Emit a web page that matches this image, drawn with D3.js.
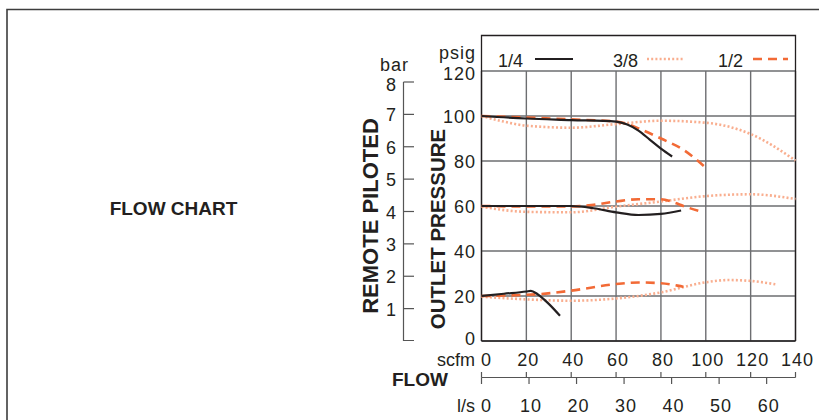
<!DOCTYPE html>
<html><head><meta charset="utf-8">
<script src="https://cdn.jsdelivr.net/npm/d3@7"></script>
<style>
html,body{margin:0;padding:0;background:#fff;}
svg{display:block;font-family:"Liberation Sans",Arial,Helvetica,sans-serif;}
</style></head>
<body><svg id="c" width="819" height="420"></svg>
<script>
// ---- data ----
const scfmTicks = [0, 20, 40, 60, 80, 100, 120, 140];
const lpsTicks = [0, 10, 20, 30, 40, 50, 60];
const psigTicks = [0, 20, 40, 60, 80, 100, 120];
const barTicks = [1, 2, 3, 4, 5, 6, 7, 8];
const seriesNames = ["1/4", "3/8", "1/2"];
// [scfm, psig]
const quarterTop = [[0,100],[20,98.9],[40,98.2],[60,97.5],[65,96.2],[70,93.5],[75,89.5],[80,85.5],[85,82]];
const quarterMid = [[0,60],[20,60],[40,60],[50,59],[60,57.2],[70,56],[80,56.5],[89,58]];
const quarterLow = [[0,20],[10,21],[20,22],[22,22.3],[25,20.8],[30,16.5],[35,11.2]];
const threeEighthTop = [[0,100],[10,97.5],[20,95.7],[40,94.8],[60,96.4],[80,97.9],[100,97],[120,92],[140,80.2]];
const threeEighthMid = [[0,59.7],[20,57.4],[40,57.2],[60,59.7],[80,62],[100,64.4],[120,65.2],[140,63.1]];
const threeEighthLow = [[0,19.7],[20,18.5],[40,17.9],[60,18.9],[80,21.6],[100,26.1],[110,27.1],[120,26.7],[131,25.2]];
const halfTop = [[0,100],[20,99.3],[40,98.5],[60,97.5],[65,96.5],[70,94.5],[80,90],[90,85],[100,77]];
const halfMid = [[0,60],[20,59.8],[40,59.8],[50,60.5],[60,62],[70,63],[80,63],[86,61.5],[90,60],[98,57.5]];
const halfLow = [[0,20],[25,20.8],[40,22.4],[60,25.3],[70,26],[80,25.7],[88,24.5],[90,24.1]];

// ---- setup ----
const svg = d3.select("#c");
const FONT = 18, LS = 1;
const x = d3.scaleLinear().domain([0, 140]).range([481.5, 795.5]);
const xL = d3.scaleLinear().domain([0, 140 * 0.471947]).range([481.5, 795.5]);
const y = d3.scaleLinear().domain([0, 120]).range([341, 71]);
const yBar = d3.scaleLinear().domain([0, 8]).range([341, 82]);
const GRID = "#6d6e71";
const BLACK = "#231f20", ORANGE = "#f26a36", PEACH = "#f9ae8f";

function txt(sel, ls) {
  return sel.attr("font-size", FONT).attr("letter-spacing", ls === undefined ? LS : ls).attr("fill", BLACK);
}

// outer border
svg.append("path").attr("d", "M7,420 L7,9.5 L819,9.5")
  .attr("fill", "none").attr("stroke", "#3d3d3d").attr("stroke-width", 1.6);

// title
svg.append("text").attr("x", 173.5).attr("y", 215).attr("text-anchor", "middle")
  .attr("font-weight", "bold").attr("font-size", 19).attr("fill", BLACK).text("FLOW CHART");

// grid
const g = svg.append("g");
g.selectAll("line.h").data(psigTicks).join("line")
  .attr("x1", x(0)).attr("x2", x(140)).attr("y1", d => y(d)).attr("y2", d => y(d))
  .attr("stroke", GRID).attr("stroke-width", 1.4);
g.selectAll("line.v").data(scfmTicks).join("line")
  .attr("x1", d => x(d)).attr("x2", d => x(d)).attr("y1", y(120)).attr("y2", y(0))
  .attr("stroke", GRID).attr("stroke-width", 1.4);
// frame
svg.append("path").attr("d", `M${x(0)},${y(0)} L${x(0)},35.5 L${x(140)},35.5 L${x(140)},${y(0)}`)
  .attr("fill", "none").attr("stroke", BLACK).attr("stroke-width", 1.3);
svg.append("line").attr("x1", x(0)).attr("x2", x(140)).attr("y1", y(0)).attr("y2", y(0))
  .attr("stroke", BLACK).attr("stroke-width", 1.3);

// psig labels
txt(svg.selectAll("text.psi").data(psigTicks).join("text")
  .attr("x", 476).attr("y", d => y(d) + (d === 120 ? 9 : d === 0 ? 4 : 6.5)).attr("text-anchor", "end")).text(d => d);
txt(svg.append("text").attr("x", 476).attr("y", 59).attr("text-anchor", "end")).text("psig");

// bar axis
const barX = 403.5;
svg.append("path").attr("d", `M${barX},${yBar(8)} L${barX},340.5 L414,340.5`)
  .attr("fill", "none").attr("stroke", "#555").attr("stroke-width", 1.2);
svg.selectAll("line.bt").data(barTicks).join("line")
  .attr("x1", barX).attr("x2", 414).attr("y1", d => yBar(d)).attr("y2", d => yBar(d))
  .attr("stroke", "#555").attr("stroke-width", 1.2);
txt(svg.selectAll("text.bar").data(barTicks).join("text")
  .attr("x", 397).attr("y", d => yBar(d) + 7 + (d === 8 ? 2 : 0)).attr("text-anchor", "end")).text(d => d);
txt(svg.append("text").attr("x", 409).attr("y", 71).attr("text-anchor", "end")).text("bar");

// axis titles
svg.append("text").attr("transform", "translate(378,216) rotate(-90)")
  .attr("text-anchor", "middle").attr("font-weight", "bold").attr("font-size", 22)
  .attr("fill", BLACK).text("REMOTE PILOTED");
svg.append("text").attr("transform", "translate(444.5,229) rotate(-90)")
  .attr("text-anchor", "middle").attr("font-weight", "bold").attr("font-size", 20.5)
  .attr("fill", BLACK).text("OUTLET PRESSURE");

// flow axes
txt(svg.selectAll("text.scfm").data(scfmTicks).join("text")
  .attr("x", d => x(d) + (d === 0 ? 5 : 2)).attr("y", 366).attr("text-anchor", "middle")).text(d => d);
txt(svg.append("text").attr("x", 475).attr("y", 366).attr("text-anchor", "end"), 0).text("scfm");
svg.append("text").attr("x", 392).attr("y", 386)
  .attr("font-weight", "bold").attr("font-size", 19).attr("fill", BLACK).text("FLOW");
const flowY = 377.5;
svg.append("line").attr("x1", x(0)).attr("x2", x(140)).attr("y1", flowY).attr("y2", flowY)
  .attr("stroke", "#555").attr("stroke-width", 1.2);
svg.selectAll("line.st").data(scfmTicks).join("line")
  .attr("x1", d => x(d)).attr("x2", d => x(d)).attr("y1", 372).attr("y2", flowY)
  .attr("stroke", "#555").attr("stroke-width", 1.2);
svg.selectAll("line.lt").data(lpsTicks).join("line")
  .attr("x1", d => xL(d)).attr("x2", d => xL(d)).attr("y1", flowY).attr("y2", 384)
  .attr("stroke", "#555").attr("stroke-width", 1.2);
txt(svg.selectAll("text.lps").data(lpsTicks).join("text")
  .attr("x", d => xL(d) + (d === 0 ? 5 : 2)).attr("y", 412).attr("text-anchor", "middle")).text(d => d);
txt(svg.append("text").attr("x", 475).attr("y", 412).attr("text-anchor", "end"), 0).text("l/s");

// curves
const line = d3.line().x(d => x(d[0])).y(d => y(d[1])).curve(d3.curveMonotoneX);
const styles = {
  "1/4": {stroke: BLACK, width: 2.2, dash: null, data: [quarterTop, quarterMid, quarterLow]},
  "3/8": {stroke: PEACH, width: 2.6, dash: "2,2.2", data: [threeEighthTop, threeEighthMid, threeEighthLow]},
  "1/2": {stroke: ORANGE, width: 2.6, dash: "9,6", data: [halfTop, halfMid, halfLow]}
};
["3/8", "1/2", "1/4"].forEach(k => {
  const s = styles[k];
  svg.append("g").selectAll("path").data(s.data).join("path")
    .attr("d", line).attr("fill", "none").attr("stroke", s.stroke)
    .attr("stroke-width", s.width).attr("stroke-dasharray", s.dash);
});

// legend
const legX = [498, 613, 718];
const legLine = [[535, 573], [647, 683], [753, 788]];
seriesNames.forEach((n, i) => {
  const s = styles[n];
  svg.append("text").attr("x", legX[i]).attr("y", 67).attr("font-size", FONT)
    .attr("fill", BLACK).text(n);
  svg.append("line").attr("x1", legLine[i][0]).attr("x2", legLine[i][1])
    .attr("y1", 59).attr("y2", 59).attr("stroke", s.stroke)
    .attr("stroke-width", s.width).attr("stroke-dasharray", s.dash);
});
</script></body></html>
